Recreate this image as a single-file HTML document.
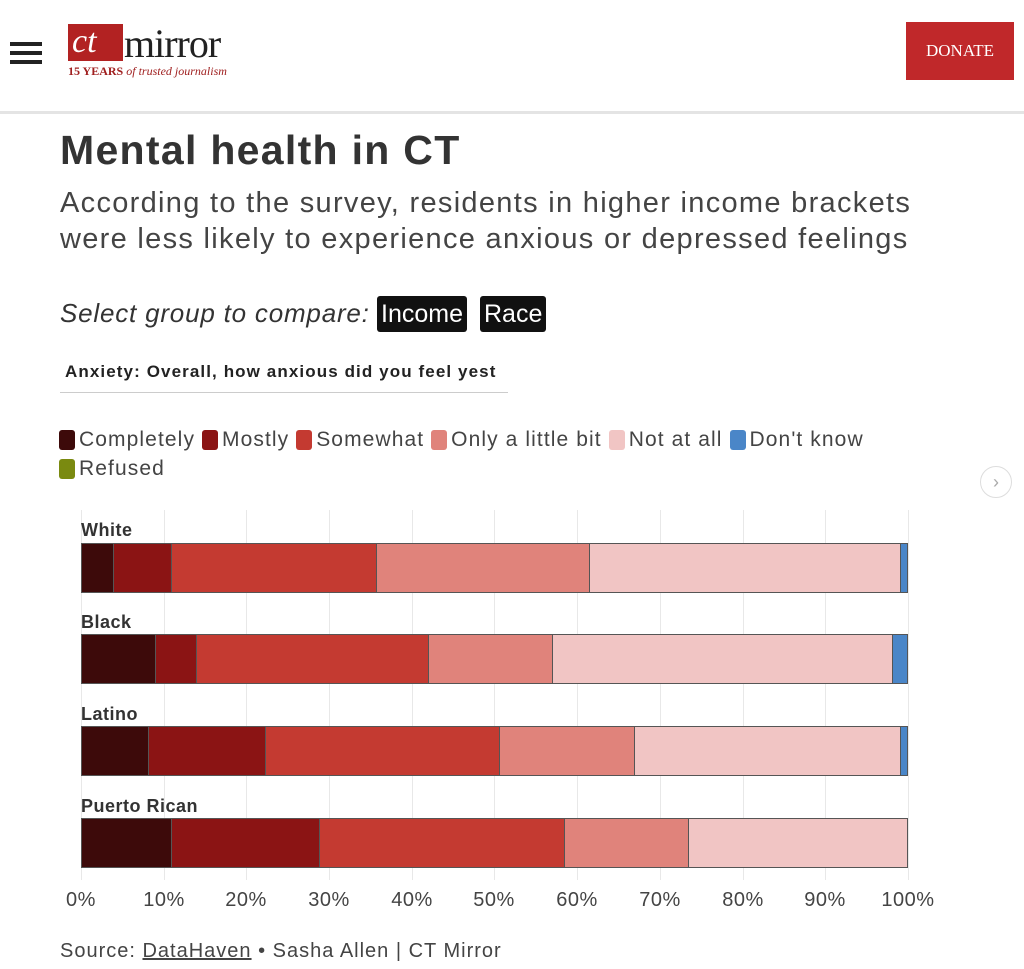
<!DOCTYPE html>
<html><head><meta charset="utf-8"><style>
*{margin:0;padding:0;box-sizing:border-box}
body{width:1024px;height:969px;background:#fff;font-family:"Liberation Sans",sans-serif;color:#333;position:relative;overflow:hidden}
.abs{position:absolute}
.hdr{left:0;top:0;width:1024px;height:114px;background:#fff;border-bottom:3px solid #e4e4e4}
.ham{left:10px;width:32px;height:4px;background:#222}
.logo{left:68px;top:24px;width:55px;height:37px;background:#b22222;color:#fff;font-family:"Liberation Serif",serif;font-size:34px;font-style:italic;line-height:36px;padding-left:4px}
.mirror{left:124px;top:20px;font-family:"Liberation Serif",serif;font-size:40px;color:#222;letter-spacing:-1px}
.tag{left:68px;top:64px;font-family:"Liberation Serif",serif;font-size:12px;color:#a02020;font-weight:bold}
.don{left:906px;top:22px;width:108px;height:58px;background:#c0282a;color:#fff;font-family:"Liberation Serif",serif;font-size:17px;text-align:center;line-height:58px}
h1{left:60px;top:127px;font-size:41px;font-weight:bold;color:#333;letter-spacing:1.3px}
.sub{left:60px;top:185px;font-size:29px;line-height:36px;color:#444;letter-spacing:1.3px}
.sel{left:60px;top:298px;font-size:26px;font-style:italic;color:#333;letter-spacing:0.8px}
.btn{background:#111;color:#fff;font-size:25px;padding:1px 4px;border-radius:3px;height:36px;line-height:34px}
.dd{left:60px;top:362px;width:448px;border-bottom:1px solid #ccc;height:31px;font-size:17px;font-weight:bold;color:#222;padding-left:5px;letter-spacing:1.1px;white-space:nowrap;overflow:hidden}
.leg{font-size:21px;color:#444;display:flex;align-items:center;letter-spacing:1.1px;white-space:nowrap}
.sw{width:16px;height:20px;border-radius:3px;margin-right:4px;display:inline-block}
.grid{width:1px;background:#e8e8e8;top:510px;height:370px}
.lab{font-size:18px;font-weight:bold;color:#333;letter-spacing:0.5px}
.bar{height:50px;border:1px solid #555;display:flex;left:81px;width:827px}
.bar div{height:100%;border-right:1.5px solid #555}
.tick{top:889px;font-size:20px;color:#444;width:80px;text-align:center;letter-spacing:0.5px}
.src{left:60px;top:940px;font-size:20px;color:#444;letter-spacing:1px}
</style></head><body>
<div class="abs hdr"></div>
<div class="abs ham" style="top:42px"></div><div class="abs ham" style="top:51px"></div><div class="abs ham" style="top:60px"></div>
<div class="abs logo">ct</div>
<div class="abs mirror">mirror</div>
<div class="abs tag">15 YEARS <i style="font-weight:normal">of trusted journalism</i></div>
<div class="abs don">DONATE</div>
<h1 class="abs">Mental health in CT</h1>
<div class="abs sub">According to the survey, residents in higher income brackets<br>were less likely to experience anxious or depressed feelings</div>
<div class="abs sel">Select group to compare: </div>
<div class="abs btn" style="left:377px;top:296px">Income</div>
<div class="abs btn" style="left:480px;top:296px">Race</div>
<div class="abs dd">Anxiety: Overall, how anxious did you feel yest</div>
<div class="abs leg" style="left:59px;top:428px">
<span class="sw" style="background:#3d0a0a"></span>Completely&nbsp;
<span class="sw" style="background:#8b1414"></span>Mostly&nbsp;
<span class="sw" style="background:#c43a31"></span>Somewhat&nbsp;
<span class="sw" style="background:#e0837b"></span>Only a little bit&nbsp;
<span class="sw" style="background:#f1c5c4"></span>Not at all&nbsp;
<span class="sw" style="background:#4a86c8"></span>Don't know</div>
<div class="abs leg" style="left:59px;top:457px"><span class="sw" style="background:#7a8a10"></span>Refused</div>
<div class="abs" style="left:980px;top:466px;width:32px;height:32px;border:1px solid #ddd;border-radius:50%;color:#aaa;text-align:center;line-height:30px;font-size:18px">›</div>

<div class="abs grid" style="left:81px"></div><div class="abs grid" style="left:164px"></div><div class="abs grid" style="left:246px"></div><div class="abs grid" style="left:329px"></div><div class="abs grid" style="left:412px"></div><div class="abs grid" style="left:494px"></div><div class="abs grid" style="left:577px"></div><div class="abs grid" style="left:660px"></div><div class="abs grid" style="left:743px"></div><div class="abs grid" style="left:825px"></div><div class="abs grid" style="left:908px"></div>

<div class="abs lab" style="left:81px;top:520px">White</div>
<div class="abs bar" style="top:543px"><div style="width:32px;background:#3d0a0a"></div><div style="width:58px;background:#8b1414"></div><div style="width:205px;background:#c43a31"></div><div style="width:213px;background:#e0837b"></div><div style="width:311px;background:#f1c5c4"></div><div style="flex:1;background:#4a86c8;border:0"></div></div>
<div class="abs lab" style="left:81px;top:612px">Black</div>
<div class="abs bar" style="top:634px"><div style="width:74px;background:#3d0a0a"></div><div style="width:41px;background:#8b1414"></div><div style="width:232px;background:#c43a31"></div><div style="width:124px;background:#e0837b"></div><div style="width:340px;background:#f1c5c4"></div><div style="flex:1;background:#4a86c8;border:0"></div></div>
<div class="abs lab" style="left:81px;top:704px">Latino</div>
<div class="abs bar" style="top:726px"><div style="width:67px;background:#3d0a0a"></div><div style="width:117px;background:#8b1414"></div><div style="width:234px;background:#c43a31"></div><div style="width:135px;background:#e0837b"></div><div style="width:266px;background:#f1c5c4"></div><div style="flex:1;background:#4a86c8;border:0"></div></div>
<div class="abs lab" style="left:81px;top:796px">Puerto Rican</div>
<div class="abs bar" style="top:818px"><div style="width:90px;background:#3d0a0a"></div><div style="width:148px;background:#8b1414"></div><div style="width:245px;background:#c43a31"></div><div style="width:124px;background:#e0837b"></div><div style="flex:1;background:#f1c5c4;border:0"></div></div>

<div class="abs tick" style="left:41px">0%</div><div class="abs tick" style="left:124px">10%</div><div class="abs tick" style="left:206px">20%</div><div class="abs tick" style="left:289px">30%</div><div class="abs tick" style="left:372px">40%</div><div class="abs tick" style="left:454px">50%</div><div class="abs tick" style="left:537px">60%</div><div class="abs tick" style="left:620px">70%</div><div class="abs tick" style="left:703px">80%</div><div class="abs tick" style="left:785px">90%</div><div class="abs tick" style="left:868px">100%</div>
<div class="abs src">Source: <u>DataHaven</u> • Sasha Allen | CT Mirror</div>
</body></html>
